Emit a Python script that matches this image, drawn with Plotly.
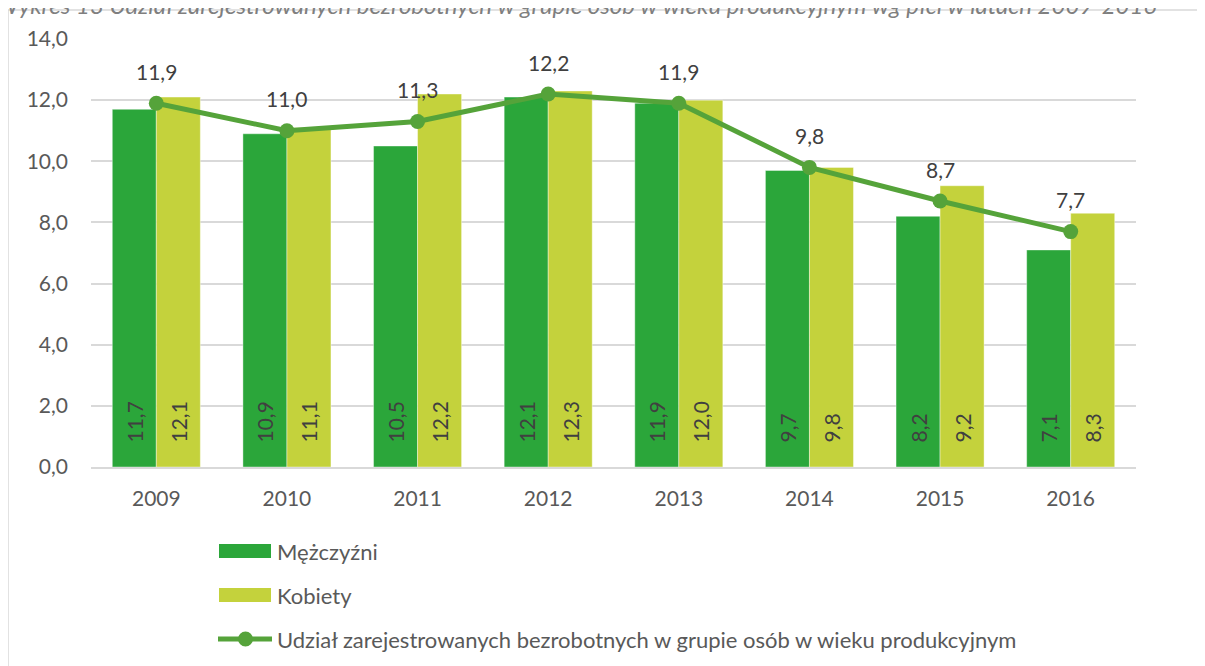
import plotly.graph_objects as go

years = ["2009", "2010", "2011", "2012", "2013", "2014", "2015", "2016"]
men = [11.7, 10.9, 10.5, 12.1, 11.9, 9.7, 8.2, 7.1]
women = [12.1, 11.1, 12.2, 12.3, 12.0, 9.8, 9.2, 8.3]
share = [11.9, 11.0, 11.3, 12.2, 11.9, 9.8, 8.7, 7.7]
y_ticks = [0, 2, 4, 6, 8, 10, 12, 14]
names = ["Mężczyźni", "Kobiety",
         "Udział zarejestrowanych bezrobotnych w grupie osób w wieku produkcyjnym"]
title = ("Wykres 13 Udział zarejestrowanych bezrobotnych w grupie osób w wieku "
         "produkcyjnym wg płci w latach 2009-2016")

FONT = "Lato"
TXT = "#595959"
DARK = "#404040"
C_MEN, C_WOMEN, C_LINE = "#2BA63A", "#C4D23C", "#55A33A"
NUM_SIZE = 21
LEG_SIZE = 22
W, H = 1205, 666
OFF = 8  # page offset of the plot div
L, T = 91 - OFF, 39 - OFF
pw, ph = 1045, 428
R, B = W - L - pw, H - T - ph


def pl(v):
    return f"{v:.1f}".replace(".", ",")


def px_x(p):
    return (p - OFF - L) / pw


def px_y(p):
    return (T + ph - (p - OFF)) / ph


fig = go.Figure()
for vals, nm, col in ((men, names[0], C_MEN), (women, names[1], C_WOMEN)):
    fig.add_trace(go.Bar(
        x=years, y=vals, name=nm, marker_color=col,
        marker_line=dict(color="rgba(255,255,255,0.4)", width=1),
        text=["\u00a0\u00a0\u00a0\u00a0" + pl(v) for v in vals],
        textposition="inside", insidetextanchor="start",
        textangle=-90, textfont=dict(color=DARK, size=NUM_SIZE, family=FONT)))
fig.add_trace(go.Scatter(
    x=years, y=share, name=names[2], mode="lines+markers",
    line=dict(color=C_LINE, width=5), marker=dict(size=15, color=C_LINE),
    cliponaxis=False))
# labels above the line points (category axis positions are indices)
for i, yv in enumerate(share):
    fig.add_annotation(x=i, y=yv, xref="x", yref="y", text=pl(yv),
                       showarrow=False, yshift=32,
                       font=dict(color=DARK, size=NUM_SIZE, family=FONT))

# manual legend
leg_rows = [551, 595, 639]
for i, (nm, col) in enumerate(zip(names[:2], (C_MEN, C_WOMEN))):
    fig.add_shape(type="rect", xref="paper", yref="paper",
                  x0=px_x(219), x1=px_x(271), y0=px_y(leg_rows[i] + 7),
                  y1=px_y(leg_rows[i] - 7), fillcolor=col, line_width=0)
fig.add_shape(type="line", xref="paper", yref="paper",
              x0=px_x(218), x1=px_x(272), y0=px_y(leg_rows[2]), y1=px_y(leg_rows[2]),
              line=dict(color=C_LINE, width=5))
fig.add_shape(type="circle", xref="paper", yref="paper",
              x0=px_x(238), x1=px_x(253), y0=px_y(leg_rows[2] + 7.5),
              y1=px_y(leg_rows[2] - 7.5), fillcolor=C_LINE, line_width=0)
for nm, yr in zip(names, leg_rows):
    fig.add_annotation(xref="paper", yref="paper", x=px_x(275), y=px_y(yr),
                       xanchor="left", yanchor="middle", text=nm, showarrow=False,
                       font=dict(color=TXT, size=LEG_SIZE, family=FONT))

# title (partly cut off at top) and frame
fig.add_annotation(xref="paper", yref="paper", x=px_x(-6), y=px_y(5),
                   xanchor="left", yanchor="middle", text=f"<i>{title}</i>",
                   showarrow=False, font=dict(color="#7F7F7F", size=24, family=FONT))
fig.add_shape(type="rect", xref="paper", yref="paper",
              x0=px_x(8), x1=px_x(W + 20), y0=px_y(H + 20), y1=px_y(10),
              line=dict(color="#D9D9D9", width=1.5), layer="below")

ytext = [pl(v) for v in y_ticks]
fig.update_layout(
    width=W, height=H,
    margin=dict(l=L, r=R, t=T, b=B),
    paper_bgcolor="white", plot_bgcolor="white",
    barmode="group", bargap=0.326, bargroupgap=0,
    font=dict(family=FONT, color=TXT, size=NUM_SIZE),
    xaxis=dict(type="category", showgrid=False, showline=True, linecolor="#D9D9D9",
               linewidth=1.5, ticks="", ticklabelstandoff=12,
               tickfont=dict(color=TXT, size=NUM_SIZE, family=FONT)),
    yaxis=dict(range=[0, 14], tickmode="array", tickvals=y_ticks, ticktext=ytext,
               tickfont=dict(color=TXT, size=NUM_SIZE, family=FONT),
               showgrid=True, gridcolor="#D9D9D9", gridwidth=1.5,
               zeroline=False, ticks="", ticklabelstandoff=22),
    yaxis2=dict(range=[0, 14], tickmode="array", tickvals=y_ticks, ticktext=ytext,
                tickfont=dict(color=TXT, size=NUM_SIZE, family=FONT),
                overlaying="y", side="right", showgrid=False,
                zeroline=False, ticks="", ticklabelstandoff=22),
    showlegend=False,
)
fig.write_html("out.html")
